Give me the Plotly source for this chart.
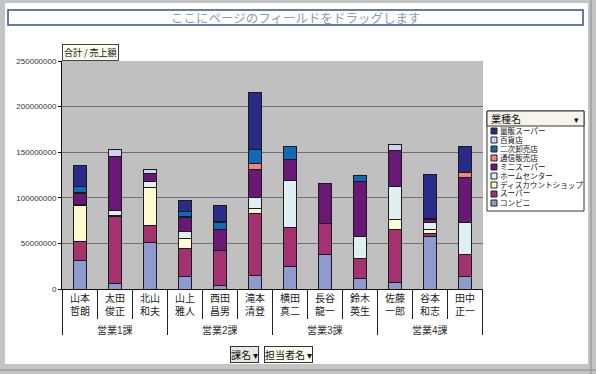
import plotly.graph_objects as go

# ---------------- data ----------------
persons = ["山本<br>哲朗", "太田<br>俊正", "北山<br>和夫", "山上<br>雅人", "西田<br>昌男", "滝本<br>清登",
           "横田<br>真二", "長谷<br>龍一", "鈴木<br>英生", "佐藤<br>一郎", "谷本<br>和志", "田中<br>正一"]
groups = ["営業1課", "営業1課", "営業1課", "営業2課", "営業2課", "営業2課",
          "営業3課", "営業3課", "営業3課", "営業4課", "営業4課", "営業4課"]

konbini   = [31800000, 5800000, 50800000, 13500000, 3700000, 14300000, 25200000, 37600000, 11000000, 6900000, 57300000, 13500000]
super_    = [20500000, 74000000, 18300000, 31000000, 38300000, 68000000, 42400000, 34400000, 22200000, 58500000, 4100000, 24500000]
discount  = [39000000, 800000, 42500000, 11000000, 0, 5500000, 0, 0, 0, 11000000, 4000000, 0]
homecenter = [1000000, 5000000, 6600000, 8000000, 0, 12400000, 51200000, 0, 24100000, 35800000, 7300000, 34700000]
minisuper = [12000000, 59500000, 8000000, 14600000, 22700000, 30500000, 23700000, 44200000, 61100000, 40200000, 3000000, 49300000]
tsushin   = [2000000, 0, 800000, 1000000, 800000, 7300000, 0, 0, 0, 0, 800000, 5200000]
niji      = [6000000, 0, 0, 6000000, 7300000, 14600000, 13500000, 0, 6200000, 0, 1000000, 0]
hyakka    = [0, 7400000, 3700000, 0, 1500000, 0, 0, 0, 0, 5800000, 0, 0]
ryohan    = [23000000, 0, 0, 12000000, 17500000, 63300000, 0, 0, 0, 0, 48000000, 28800000]

series_names = ["コンビニ", "スーパー", "ディスカウントショップ", "ホームセンター", "ミニスーパー",
                "通信販売店", "二次卸売店", "百貨店", "量販スーパー"]
series_values = [konbini, super_, discount, homecenter, minisuper, tsushin, niji, hyakka, ryohan]
series_colors = ["#8f9bcf", "#a3326e", "#fffbd2", "#e0f0f2", "#6a1876",
                 "#f2877e", "#0f6ab8", "#cfd5ee", "#282c88"]

y_ticks = [0, 50000000, 100000000, 150000000, 200000000, 250000000]

# ---------------- layout helpers (pixel -> paper) ----------------
W, H = 596, 374
L, R, T, B = 62, 483, 61, 289


def px(x):
    return (x - L) / (R - L)


def py(y):
    return (B - y) / (B - T)


FONT = "Noto Sans CJK JP"
TIGHT = "Liberation Sans, Noto Sans CJK JP"

fig = go.Figure()
for name, vals, col in zip(series_names, series_values, series_colors):
    fig.add_trace(go.Bar(
        x=persons,
        y=[v if v else None for v in vals],
        name=name,
        marker=dict(color=col, line=dict(color="#1a1a1a", width=1)),
        showlegend=False,
    ))

shapes = []
annotations = []

# x-axis dividers
for i in range(len(persons) + 1):
    is_group = (i == 0 or i == len(persons) or groups[i] != groups[i - 1])
    shapes.append(dict(type="line", xref="x", yref="paper",
                       x0=i - 0.5, x1=i - 0.5, y0=0, y1=py(335 if is_group else 319),
                       line=dict(color="#222", width=1)))

# group labels
start = 0
for i in range(1, len(groups) + 1):
    if i == len(groups) or groups[i] != groups[start]:
        annotations.append(dict(xref="x", yref="paper", x=(start + i - 1) / 2, y=py(330),
                                text=groups[start], showarrow=False,
                                font=dict(family=TIGHT, size=10, color="#333"),
                                xanchor="center", yanchor="middle"))
        start = i

# page field drop box
shapes.append(dict(type="rect", xref="paper", yref="paper",
                   x0=px(8), x1=px(583), y0=py(10), y1=py(25),
                   line=dict(color="#2f5291", width=1.5), fillcolor="white"))
annotations.append(dict(xref="paper", yref="paper", x=px(296), y=py(17.5),
                        text="ここにページのフィールドをドラッグします", showarrow=False,
                        font=dict(family=FONT, size=12.5, color="#8f9aa8"),
                        xanchor="center", yanchor="middle"))

# data field button
annotations.append(dict(xref="paper", yref="paper", x=px(62), y=py(52),
                        text="合計 / 売上額", showarrow=False,
                        font=dict(family=FONT, size=9, color="#111"),
                        xanchor="left", yanchor="middle",
                        bgcolor="#fbfbee", bordercolor="#444", borderwidth=1, borderpad=1))

# bottom field buttons
annotations.append(dict(xref="paper", yref="paper", x=px(230), y=py(354),
                        text="課名 ▾", showarrow=False,
                        font=dict(family=FONT, size=10, color="#111"),
                        xanchor="left", yanchor="middle",
                        bgcolor="#e8e8e0", bordercolor="#333", borderwidth=1, borderpad=0))
annotations.append(dict(xref="paper", yref="paper", x=px(264), y=py(354),
                        text="担当者名 ▾", showarrow=False,
                        font=dict(family=FONT, size=10, color="#111"),
                        xanchor="left", yanchor="middle",
                        bgcolor="#fbfbee", bordercolor="#333", borderwidth=1, borderpad=0))

# custom legend
lx0, lx1, ly0, ly1 = 487, 584, 111, 211
shapes.append(dict(type="rect", xref="paper", yref="paper",
                   x0=px(lx0), x1=px(lx1), y0=py(ly0), y1=py(ly1),
                   line=dict(color="#333", width=1), fillcolor="white"))
shapes.append(dict(type="rect", xref="paper", yref="paper",
                   x0=px(lx0), x1=px(lx1), y0=py(ly0), y1=py(126),
                   line=dict(color="#333", width=1), fillcolor="#f7f5ea"))
annotations.append(dict(xref="paper", yref="paper", x=px(489), y=py(118.5),
                        text="業種名", showarrow=False,
                        font=dict(family=FONT, size=10, color="#111"),
                        xanchor="left", yanchor="middle"))
annotations.append(dict(xref="paper", yref="paper", x=px(581), y=py(119.5),
                        text="▾", showarrow=False,
                        font=dict(family=FONT, size=9, color="#111"),
                        xanchor="right", yanchor="middle"))
n = len(series_names)
for k in range(n):
    idx = n - 1 - k
    yc = 131 + k * 9
    shapes.append(dict(type="rect", xref="paper", yref="paper",
                       x0=px(491), x1=px(497), y0=py(yc - 3), y1=py(yc + 3),
                       line=dict(color="#222", width=1), fillcolor=series_colors[idx]))
    annotations.append(dict(xref="paper", yref="paper", x=px(499), y=py(yc),
                            text=series_names[idx], showarrow=False,
                            font=dict(family=TIGHT, size=7.6, color="#111"),
                            xanchor="left", yanchor="middle", borderpad=0,
                            height=8.5, valign="middle"))

# outer frame (gray bands)
frame = "#c4c4c4"
for (x0, x1, y0, y1) in [(0, 5, 0, 374), (588, 596, 0, 374), (0, 596, 0, 3), (0, 596, 364, 374)]:
    shapes.append(dict(type="rect", xref="paper", yref="paper",
                       x0=px(x0), x1=px(x1), y0=py(y0), y1=py(y1),
                       line=dict(width=0), fillcolor=frame, layer="above"))
shapes.append(dict(type="line", xref="paper", yref="paper",
                   x0=px(0), x1=px(596), y0=py(370), y1=py(370),
                   line=dict(color="#8a8a8a", width=1), layer="above"))
shapes.append(dict(type="line", xref="paper", yref="paper",
                   x0=px(591), x1=px(591), y0=py(0), y1=py(374),
                   line=dict(color="#8a8a8a", width=1), layer="above"))

fig.update_layout(
    width=W, height=H,
    margin=dict(l=L, r=W - R, t=T, b=H - B),
    paper_bgcolor="white",
    plot_bgcolor="#c0c0c0",
    barmode="stack",
    bargap=0.61,
    showlegend=False,
    font=dict(family=FONT, size=10, color="#222"),
    shapes=shapes,
    annotations=annotations,
    xaxis=dict(
        type="category",
        showgrid=False,
        showline=True, linecolor="#111", linewidth=1,
        ticks="",
        tickfont=dict(family=TIGHT, size=10, color="#222"),
        fixedrange=True,
    ),
    yaxis=dict(
        range=[0, 250000000],
        tickvals=y_ticks,
        tickformat="d",
        showgrid=True, gridcolor="#6f6f6f", gridwidth=1,
        showline=True, linecolor="#111", linewidth=1,
        zeroline=False,
        ticks="outside", ticklen=3, tickcolor="#111",
        tickfont=dict(family="Liberation Sans", size=8, color="#333"),
        fixedrange=True,
    ),
)

fig.write_html("out.html",
               config={"displayModeBar": False},
               post_script="document.body.style.margin='0';document.body.style.overflow='hidden';")
